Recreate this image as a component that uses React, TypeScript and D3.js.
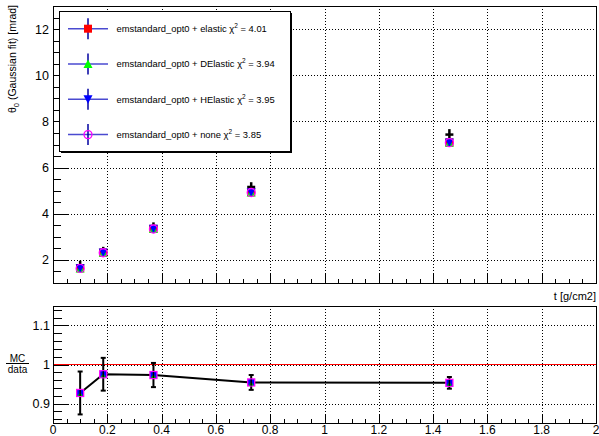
import React from 'react';
import * as d3 from 'd3';

// thickness values (x) and measurements
const thickness = [0.1, 0.185, 0.37, 0.73, 1.46];
const dataTheta = [1.76, 2.38, 3.44, 5.16, 7.43];
const dataErr = [0.12, 0.1, 0.1, 0.12, 0.15];

// MC predictions per physics list
const mcElastic = [1.64, 2.32, 3.35, 4.93, 7.09];
const mcDElastic = [1.63, 2.31, 3.34, 4.92, 7.08];
const mcHElastic = [1.64, 2.32, 3.35, 4.93, 7.09];
const mcNone = [1.63, 2.31, 3.34, 4.92, 7.08];

// MC / data ratio
const ratio = [0.927, 0.975, 0.973, 0.954, 0.953];
const ratioErr = [0.055, 0.042, 0.031, 0.019, 0.015];

const legendNames = ['elastic', 'DElastic', 'HElastic', 'none'];
const legendChi2 = ['4.01', '3.94', '3.95', '3.85'];

const xTicks = [0, 0.2, 0.4, 0.6, 0.8, 1, 1.2, 1.4, 1.6, 1.8, 2];
const yTopTicks = [2, 4, 6, 8, 10, 12];
const yBotTicks = [0.9, 1, 1.1];

const FONT = '"Liberation Sans", Arial, Helvetica, sans-serif';
const W = 599;
const H = 436;

const L = 53;
const R = 596;
const topPad = { top: 6, bottom: 283 };
const botPad = { top: 306, bottom: 423 };

const x = d3.scaleLinear().domain([0, 2]).range([L, R]);
const yTop = d3.scaleLinear().domain([1, 13]).range([topPad.bottom, topPad.top]);
const yBot = d3.scaleLinear().domain([0.85, 1.15]).range([botPad.bottom, botPad.top]);

const c = (v: number) => Math.round(v) + 0.5;

const Marker = ({ kind, cx, cy, s = 8 }: { kind: number; cx: number; cy: number; s?: number }) => {
  const h = s / 2;
  if (kind === 0) return <rect x={cx - h} y={cy - h} width={s} height={s} fill="#ff0000" />;
  if (kind === 1)
    return <path d={`M${cx},${cy - h - 0.5}L${cx + h + 0.5},${cy + h}L${cx - h - 0.5},${cy + h}Z`} fill="#00ff00" />;
  if (kind === 2)
    return <path d={`M${cx},${cy + h + 0.5}L${cx + h + 0.5},${cy - h}L${cx - h - 0.5},${cy - h}Z`} fill="#0000ff" />;
  return <circle cx={cx} cy={cy} r={h} fill="none" stroke="#ff00ff" strokeWidth={1.3} />;
};

const MarkerCluster = ({ cx, ys }: { cx: number; ys: number[] }) => (
  <g>
    {ys.map((cy, k) => (
      <Marker key={k} kind={k} cx={cx} cy={cy} />
    ))}
  </g>
);

const grid = { stroke: '#000', strokeWidth: 1, strokeDasharray: '1,2', shapeRendering: 'crispEdges' as const };

export default function App() {
  const minorX = d3.range(0, 2.0001, 0.05);
  const minorTopY = d3.range(1, 13.0001, 0.5);
  const minorBotY = d3.range(0.86, 1.145, 0.02);
  const series = [mcElastic, mcDElastic, mcHElastic, mcNone];

  const ratioLine = d3
    .line<number>()
    .x((_, i) => x(thickness[i]))
    .y((d) => yBot(d));

  return (
    <svg
      width={W}
      height={H}
      style={{ position: 'absolute', left: 0, top: 0, background: '#fff' }}
      fontFamily={FONT}
    >
      <rect width={W} height={H} fill="#fff" />

      {/* ===== top pad ===== */}
      {xTicks.slice(1, -1).map((t) => (
        <line key={'gv' + t} x1={c(x(t))} x2={c(x(t))} y1={topPad.top} y2={topPad.bottom} {...grid} />
      ))}
      {yTopTicks.map((t) => (
        <line key={'gh' + t} x1={L} x2={R} y1={c(yTop(t))} y2={c(yTop(t))} {...grid} />
      ))}

      <g stroke="#000" shapeRendering="crispEdges">
        {minorX.map((t, i) => {
          const major = i % 4 === 0;
          return (
            <line key={'tx' + i} x1={c(x(t))} x2={c(x(t))} y1={topPad.bottom} y2={topPad.bottom - (major ? 9 : 4)} />
          );
        })}
        {minorTopY.map((t, i) => {
          const major = Math.abs(t % 2) < 1e-6;
          return <line key={'ty' + i} x1={L} x2={L + (major ? 15 : 8)} y1={c(yTop(t))} y2={c(yTop(t))} />;
        })}
      </g>

      {yTopTicks.map((t) => (
        <text key={'yl' + t} x={49} y={yTop(t) + 4.5} fontSize={12.5} textAnchor="end" fill="#000">
          {t}
        </text>
      ))}

      <text transform="translate(16,5) rotate(-90)" fontSize={10.5} textAnchor="end" fill="#000">
        θ<tspan fontSize={7.5} dy={3}>0</tspan>
        <tspan dy={-3}> (Gaussian fit) [mrad]</tspan>
      </text>

      {/* data points */}
      {thickness.map((t, i) => {
        const px = x(t);
        return (
          <g key={'d' + i} stroke="#000" strokeWidth={2.5}>
            <line x1={px} x2={px} y1={yTop(dataTheta[i] + dataErr[i]) - 2} y2={yTop(dataTheta[i] - dataErr[i])} />
            <line x1={px - 4} x2={px + 4} y1={yTop(dataTheta[i])} y2={yTop(dataTheta[i])} />
          </g>
        );
      })}
      {thickness.map((t, i) => (
        <MarkerCluster key={'m' + i} cx={x(t)} ys={series.map((s) => yTop(s[i]))} />
      ))}

      <rect x={L} y={topPad.top} width={R - L} height={topPad.bottom - topPad.top} fill="none" stroke="#000" shapeRendering="crispEdges" />

      {/* legend */}
      <rect x={61} y={13} width={231} height={140} fill="#000" />
      <rect x={59.5} y={11.5} width={231} height={140} fill="#fff" stroke="#000" shapeRendering="crispEdges" />
      {legendNames.map((n, k) => {
        const ly = 28.7 + k * 35.3;
        return (
          <g key={'lg' + k}>
            <line x1={68} x2={108} y1={ly} y2={ly} stroke="#4a4ad0" strokeWidth={1.5} />
            <line x1={88} x2={88} y1={ly - 10.5} y2={ly + 10.5} stroke="#0000a0" strokeWidth={1.5} />
            <Marker kind={k} cx={88} cy={ly} />
            <text x={116.5} y={ly + 3.3} fontSize={9.4} fill="#000">
              {`emstandard_opt0 + ${n} χ`}
              <tspan fontSize={6.5} dy={-4}>2</tspan>
              <tspan dy={4}>{` = ${legendChi2[k]}`}</tspan>
            </text>
          </g>
        );
      })}

      {/* ===== bottom pad ===== */}
      {xTicks.slice(1, -1).map((t) => (
        <line key={'bgv' + t} x1={c(x(t))} x2={c(x(t))} y1={botPad.top} y2={botPad.bottom} {...grid} />
      ))}
      {yBotTicks.map((t) => (
        <line key={'bgh' + t} x1={L} x2={R} y1={c(yBot(t))} y2={c(yBot(t))} {...grid} />
      ))}

      <g stroke="#000" shapeRendering="crispEdges">
        {minorX.map((t, i) => {
          const major = i % 4 === 0;
          return (
            <line key={'bx' + i} x1={c(x(t))} x2={c(x(t))} y1={botPad.bottom} y2={botPad.bottom - (major ? 8 : 4)} />
          );
        })}
        {minorBotY.map((t, i) => {
          const major = yBotTicks.some((m) => Math.abs(m - t) < 1e-6);
          return <line key={'by' + i} x1={L} x2={L + (major ? 16 : 9)} y1={c(yBot(t))} y2={c(yBot(t))} />;
        })}
      </g>

      <line x1={L} x2={R} y1={yBot(1)} y2={yBot(1)} stroke="#ff0000" strokeWidth={1.2} />

      <path d={ratioLine(ratio) || ''} fill="none" stroke="#000" strokeWidth={2} />
      {thickness.map((t, i) => {
        const px = x(t);
        const y1 = yBot(ratio[i] + ratioErr[i]);
        const y2 = yBot(ratio[i] - ratioErr[i]);
        return (
          <g key={'re' + i} stroke="#000" strokeWidth={2}>
            <line x1={px} x2={px} y1={y1} y2={y2} />
            <line x1={px - 2.5} x2={px + 2.5} y1={y1} y2={y1} />
            <line x1={px - 2.5} x2={px + 2.5} y1={y2} y2={y2} />
          </g>
        );
      })}
      {thickness.map((t, i) => (
        <g key={'rm' + i}>
          <rect x={x(t) - 3.5} y={yBot(ratio[i]) - 3.5} width={7} height={7} fill="#0000ff" stroke="#ff00ff" strokeWidth={1.3} />
          <path
            d={`M${x(t)},${yBot(ratio[i]) - 1}L${x(t) + 2.5},${yBot(ratio[i]) + 3}L${x(t) - 2.5},${yBot(ratio[i]) + 3}Z`}
            fill="#00c000"
          />
          <line x1={x(t)} x2={x(t)} y1={yBot(ratio[i]) - 3} y2={yBot(ratio[i]) + 3} stroke="#000" strokeWidth={1.5} />
        </g>
      ))}

      <rect x={L} y={botPad.top} width={R - L} height={botPad.bottom - botPad.top} fill="none" stroke="#000" shapeRendering="crispEdges" />

      {yBotTicks.map((t) => (
        <text key={'byl' + t} x={50} y={yBot(t) + 4.5} fontSize={12.5} textAnchor="end" fill="#000">
          {t}
        </text>
      ))}
      {xTicks.map((t) => (
        <text key={'bxl' + t} x={x(t)} y={433.5} fontSize={12} textAnchor="middle" fill="#000">
          {t}
        </text>
      ))}

      <text x={R} y={300} fontSize={11} textAnchor="end" fill="#000">
        t [g/cm2]
      </text>

      <text x={17.5} y={361.5} fontSize={10} textAnchor="middle" fill="#000">
        MC
      </text>
      <line x1={6} x2={29} y1={363.5} y2={363.5} stroke="#000" strokeWidth={1} />
      <text x={17.5} y={373} fontSize={10} textAnchor="middle" fill="#000">
        data
      </text>
    </svg>
  );
}
